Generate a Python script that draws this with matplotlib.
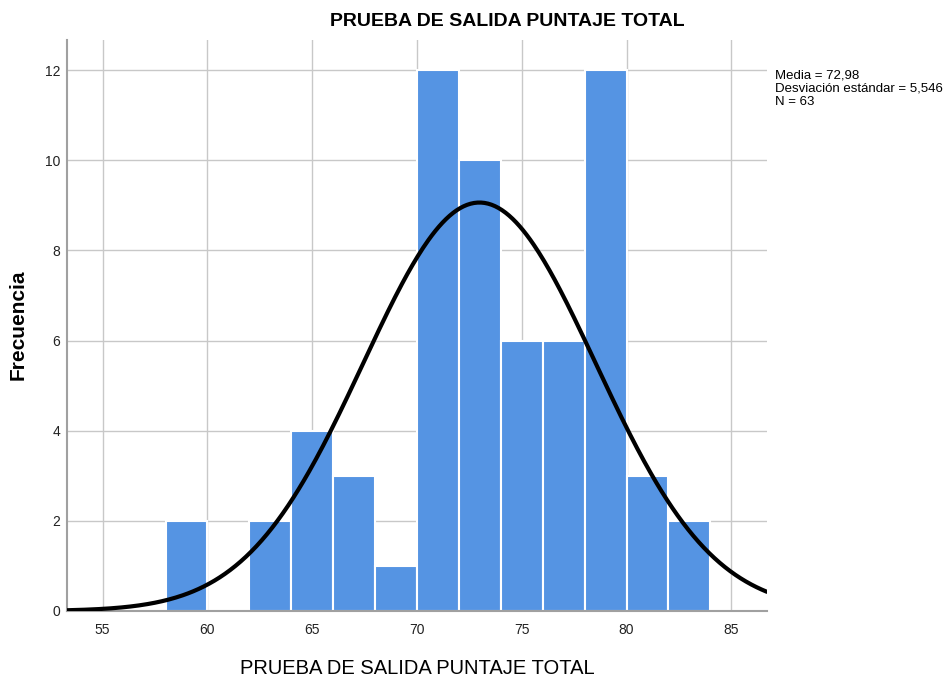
import numpy as np
import matplotlib
matplotlib.use("Agg")
import matplotlib.pyplot as plt

# histogram bins (width 2) and counts
bin_edges = [58, 60, 62, 64, 66, 68, 70, 72, 74, 76, 78, 80, 82, 84]
counts = [2, 0, 2, 4, 3, 1, 12, 10, 6, 6, 12, 3, 2]
media = 72.98
desv = 5.546
n = 63
xticks = [55, 60, 65, 70, 75, 80, 85]
yticks = [0, 2, 4, 6, 8, 10, 12]

fig = plt.figure(figsize=(9.5, 6.82), dpi=100)
ax = fig.add_axes([67/950, 1-611/682, 700/950, 571/682])

ax.set_axisbelow(True)
ax.grid(True, color="#c8c8c8", linewidth=1.0)
lefts = np.array(bin_edges[:-1])
widths = np.diff(bin_edges)
ax.bar(lefts, counts, width=widths, align="edge", color="#5594e3",
       edgecolor="white", linewidth=1.5, zorder=2)

xs = np.linspace(53.3, 86.7, 400)
dens = n * 2 / (desv * np.sqrt(2 * np.pi)) * np.exp(-0.5 * ((xs - media) / desv) ** 2)
ax.plot(xs, dens, color="black", linewidth=3, zorder=3, solid_capstyle="round")

ax.set_xlim(53.3, 86.7)
ax.set_ylim(0, 12.67)
ax.set_xticks(xticks)
ax.set_yticks(yticks)
ax.tick_params(length=0, labelsize=10, colors="#222222")
ax.tick_params(axis="x", pad=9)
ax.tick_params(axis="y", pad=5)
for lbl in ax.get_xticklabels() + ax.get_yticklabels():
    lbl.set_family("Liberation Sans")
for s in ["top", "right"]:
    ax.spines[s].set_visible(False)
for s in ["left", "bottom"]:
    ax.spines[s].set_color("#a0a0a0")
    ax.spines[s].set_linewidth(1.5)

fig.text(507/950, 1-22/682, "PRUEBA DE SALIDA PUNTAJE TOTAL", ha="center", va="center",
         fontsize=14, fontweight="bold", family="Liberation Sans")
fig.text(417/950, 1-668/682, "PRUEBA DE SALIDA PUNTAJE TOTAL", ha="center", va="center",
         fontsize=14.5, family="Liberation Sans")
fig.text(18/950, 1-325/682, "Frecuencia", ha="center", va="center", rotation=90,
         fontsize=15, fontweight="bold", family="Liberation Sans")
fig.text(775/950, 1-70/682,
         f"Media = {media:.2f}".replace(".", ",") + "\n" +
         f"Desviación estándar = {desv:.3f}".replace(".", ",") + f"\nN = {n}",
         ha="left", va="top", fontsize=9.5, family="Liberation Sans", linespacing=1.1)

fig.savefig("out.png", dpi=100)
